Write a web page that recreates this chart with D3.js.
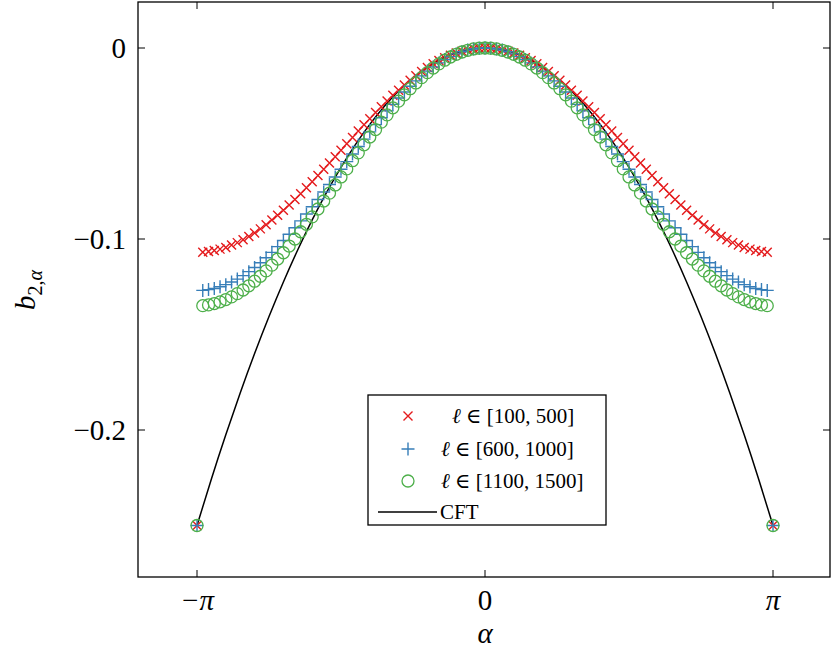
<!DOCTYPE html>
<html><head><meta charset="utf-8">
<script src="https://cdn.jsdelivr.net/npm/d3@7"></script>
<style>body{margin:0;background:#fff}</style>
</head><body><div id="chart"></div>
<script>
// half-side values at alpha = k*pi/50, k = 0..49 (mirrored for negative alpha)
const redHalf = [0,-.0001,-.0004,-.0009,-.0017,-.0026,-.0038,-.0051,-.0066,-.0083,-.0102,-.0123,-.0145,-.0169,-.0194,-.0221,-.0248,-.0277,-.0307,-.0338,-.0370,-.0402,-.0435,-.0468,-.0501,-.0535,-.0569,-.0602,-.0635,-.0668,-.0700,-.0732,-.0763,-.0793,-.0822,-.0849,-.0876,-.0901,-.0925,-.0947,-.0968,-.0987,-.1004,-.1019,-.1032,-.1044,-.1053,-.1060,-.1066,-.1069];
const blueHalf = [0,-.0001,-.0005,-.0011,-.0020,-.0031,-.0045,-.0060,-.0078,-.0099,-.0121,-.0146,-.0172,-.0200,-.0230,-.0262,-.0295,-.0329,-.0365,-.0401,-.0439,-.0477,-.0516,-.0555,-.0595,-.0635,-.0675,-.0715,-.0754,-.0793,-.0831,-.0869,-.0905,-.0941,-.0975,-.1008,-.1040,-.1070,-.1098,-.1124,-.1149,-.1171,-.1192,-.1210,-.1225,-.1239,-.1250,-.1259,-.1265,-.1269];
const greenHalf = [0,-.0001,-.0005,-.0012,-.0021,-.0033,-.0047,-.0064,-.0083,-.0105,-.0129,-.0155,-.0183,-.0213,-.0245,-.0278,-.0313,-.0350,-.0388,-.0427,-.0466,-.0507,-.0549,-.0590,-.0633,-.0675,-.0717,-.0760,-.0801,-.0843,-.0884,-.0923,-.0962,-.1000,-.1037,-.1072,-.1105,-.1137,-.1167,-.1195,-.1221,-.1245,-.1267,-.1286,-.1303,-.1317,-.1329,-.1338,-.1345,-.1349];
const endValue = -0.25; // all series at alpha = +-pi
// CFT curve at alpha = k*pi/20, k = 0..20
const cftHalf = [0,-.000625,-.0025,-.005625,-.01,-.015625,-.0225,-.030625,-.04,-.050625,-.0625,-.075625,-.09,-.105625,-.1225,-.140625,-.16,-.180625,-.2025,-.225625,-.25];
const yTicks = [0, -0.1, -0.2];
const xTicks = [-Math.PI, 0, Math.PI];
const xTickLabels = ["\u2212\u03c0", "0", "\u03c0"];
const legendLabels = ["[100, 500]", "[600, 1000]", "[1100, 1500]"];

function full(half, n){
  const pts = [];
  for(let k=half.length-1;k>0;k--) pts.push({a:-k*Math.PI/n, v:half[k]});
  half.forEach((v,k)=>pts.push({a:k*Math.PI/n, v}));
  return pts;
}
const series = [
  {pts: full(redHalf,50), color:"#e41a1c", mark:"x"},
  {pts: full(blueHalf,50), color:"#377eb8", mark:"+"},
  {pts: full(greenHalf,50), color:"#4daf4a", mark:"o"}
];
series.forEach(s=>{ s.pts.unshift({a:-Math.PI,v:endValue}); s.pts.push({a:Math.PI,v:endValue}); });
const cft = full(cftHalf,20);

const W=832,H=656,L=138,R=830,T=2,B=577;
const svg=d3.select("#chart").append("svg").attr("width",W).attr("height",H);
const x=d3.scaleLinear().domain([-Math.PI,Math.PI]).range([197,773]);
const y=d3.scaleLinear().domain([0,-0.25]).range([48,525.5]);
const font="'Liberation Serif', 'DejaVu Serif', serif";

const g=svg.append("g");
// ticks
xTicks.forEach(t=>{
  g.append("line").attr("x1",x(t)).attr("x2",x(t)).attr("y1",B).attr("y2",B-7).attr("stroke","#000");
  g.append("line").attr("x1",x(t)).attr("x2",x(t)).attr("y1",T).attr("y2",T+7).attr("stroke","#000");
});
yTicks.forEach(t=>{
  g.append("line").attr("x1",L).attr("x2",L+7).attr("y1",y(t)).attr("y2",y(t)).attr("stroke","#000");
  g.append("line").attr("x1",R).attr("x2",R-7).attr("y1",y(t)).attr("y2",y(t)).attr("stroke","#000");
  g.append("text").attr("x",L-12).attr("y",y(t)+10).attr("text-anchor","end").attr("font-family",font).attr("font-size",29)
    .text(t===0?"0":"\u2212"+d3.format(".1f")(-t));
});
xTicks.forEach((t,i)=>{
  g.append("text").attr("x",x(t)).attr("y",610).attr("text-anchor","middle").attr("font-family",font).attr("font-size",29)
    .attr("font-style",i===1?"normal":"italic").text(xTickLabels[i]);
});
g.append("text").attr("x",485).attr("y",643).attr("text-anchor","middle").attr("font-family",font).attr("font-size",29).attr("font-style","italic").text("\u03b1");
const yl=g.append("text").attr("transform","translate(35,290) rotate(-90)").attr("text-anchor","middle").attr("font-family",font).attr("font-size",29);
yl.append("tspan").attr("font-style","italic").text("b");
yl.append("tspan").attr("font-size",20).attr("dy",7).text("2,");
yl.append("tspan").attr("font-size",20).attr("font-style","italic").text("\u03b1");

// CFT line
g.append("path").datum(cft).attr("fill","none").attr("stroke","#000").attr("stroke-width",1.5)
  .attr("d",d3.line().x(d=>x(d.a)).y(d=>y(d.v)).curve(d3.curveNatural));

function marker(sel,mark,color){
  if(mark==="o") sel.append("circle").attr("r",6).attr("fill","none").attr("stroke",color).attr("stroke-width",1.3);
  else{
    const s=mark==="x"?4.5:6.5;
    const p=mark==="x"?`M${-s},${-s}L${s},${s}M${-s},${s}L${s},${-s}`:`M${-s},0L${s},0M0,${-s}L0,${s}`;
    sel.append("path").attr("d",p).attr("stroke",color).attr("stroke-width",1.4).attr("fill","none");
  }
}
series.forEach(s=>{
  g.append("g").selectAll("g").data(s.pts).join("g")
    .attr("transform",d=>`translate(${x(d.a)},${y(d.v)})`)
    .each(function(){ marker(d3.select(this),s.mark,s.color); });
});

// frame
svg.append("rect").attr("x",L).attr("y",T).attr("width",R-L).attr("height",B-T).attr("fill","none").attr("stroke","#000").attr("stroke-width",1.3);

// legend
const lg=svg.append("g");
lg.append("rect").attr("x",368).attr("y",395).attr("width",238).attr("height",130).attr("fill","#fff").attr("stroke","#000").attr("stroke-width",1.3);
const rows=[416,449,481];
series.forEach((s,i)=>{
  marker(lg.append("g").attr("transform",`translate(408,${rows[i]})`),s.mark,s.color);
  const t=lg.append("text").attr("x",i===0?452:441).attr("y",rows[i]+7).attr("font-family",font).attr("font-size",21);
  t.append("tspan").attr("font-style","italic").text("\u2113");
  t.append("tspan").text(" \u2208 "+legendLabels[i]);
});
lg.append("line").attr("x1",378).attr("x2",437).attr("y1",512).attr("y2",512).attr("stroke","#000").attr("stroke-width",1.3);
lg.append("text").attr("x",440).attr("y",519).attr("font-family",font).attr("font-size",21).text("CFT");
</script></body></html>
